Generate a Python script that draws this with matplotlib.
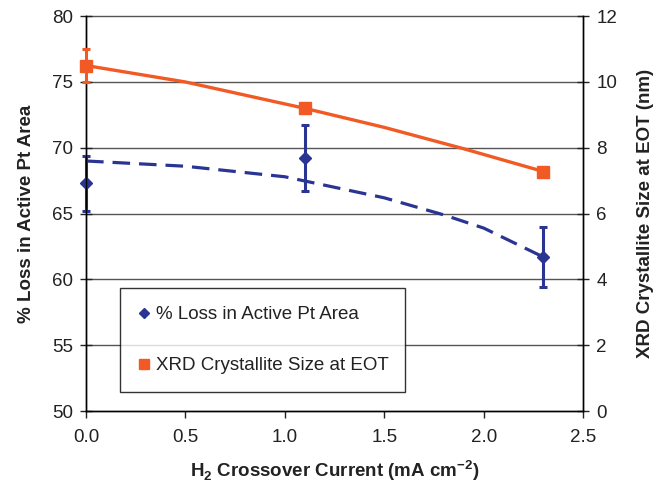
import matplotlib
matplotlib.use("Agg")
import matplotlib.pyplot as plt
from matplotlib.lines import Line2D

plt.rcParams["font.family"] = ["Liberation Sans", "DejaVu Sans"]
plt.rcParams["mathtext.fontset"] = "custom"
plt.rcParams["mathtext.rm"] = "Liberation Sans"
plt.rcParams["mathtext.bf"] = "Liberation Sans:bold"

# measured points
crossover = [0.0, 1.1, 2.3]
pt_loss = [67.3, 69.2, 61.7]
pt_loss_err = [2.1, 2.5, 2.3]
xrd_size = [10.5, 9.2, 7.28]
xrd_err = [0.5, 0.12, 0.12]

# trend lines
loss_trend_x = [0.0, 0.5, 1.0, 1.5, 1.8, 2.0, 2.3]
loss_trend_y = [69.0, 68.6, 67.8, 66.2, 64.9, 63.9, 61.7]
xrd_trend_x = [0.0, 0.5, 1.1, 1.5, 1.9, 2.3]
xrd_trend_y = [10.5, 10.0, 9.2, 8.62, 7.97, 7.28]

x_ticks = [0.0, 0.5, 1.0, 1.5, 2.0, 2.5]
left_ticks = [50, 55, 60, 65, 70, 75, 80]
right_ticks = [0, 2, 4, 6, 8, 10, 12]

BLUE = "#2a3593"
ORANGE = "#f15a24"
GRID = "#555555"
TXT = "#222222"

fig = plt.figure(figsize=(6.62, 4.90), dpi=100)
ax = fig.add_axes([0.130, 0.161, 0.751, 0.806])
ax2 = ax.twinx()

for y in left_ticks[1:]:
    ax.axhline(y, color=GRID, linewidth=1.0, zorder=0, clip_on=False)

eb1 = ax.errorbar(crossover, pt_loss, yerr=pt_loss_err, fmt="D", color=BLUE,
                  markersize=6.5, elinewidth=2.2, capsize=3, capthick=2.2, zorder=3)
ax.plot(loss_trend_x, loss_trend_y, color=BLUE, linewidth=2.3,
        dashes=(5.5, 2.8), zorder=2)

eb2 = ax2.errorbar(crossover, xrd_size, yerr=xrd_err, fmt="s", color=ORANGE,
                   markersize=8, elinewidth=2.2, capsize=3, capthick=2.2, zorder=3)
ax2.plot(xrd_trend_x, xrd_trend_y, color=ORANGE, linewidth=2.4, zorder=2)

for eb in (eb1, eb2):
    for child in eb.get_children():
        child.set_clip_on(False)

ax.set_xlim(0, 2.5)
ax.set_ylim(50, 80)
ax2.set_ylim(0, 12)
ax.set_xticks(x_ticks)
ax.set_xticklabels([f"{v:.1f}" for v in x_ticks])
ax.set_yticks(left_ticks)
ax2.set_yticks(right_ticks)

for a in (ax, ax2):
    a.spines["top"].set_visible(False)
    for s in ("left", "right", "bottom"):
        a.spines[s].set_color("black")
        a.spines[s].set_linewidth(1.0)

ax.tick_params(axis="y", direction="inout", length=9, width=1, labelsize=13.5,
               colors=TXT, pad=5)
ax2.tick_params(axis="y", direction="inout", length=9, width=1, labelsize=13.5,
                colors=TXT, pad=5)
ax.tick_params(axis="x", direction="out", length=5, width=1, labelsize=13.5,
               colors=TXT, pad=8)

ax.set_xlabel(r"H$_\mathbf{2}$ Crossover Current (mA cm$^\mathbf{-2}$)",
              fontsize=13.5, fontweight="bold", labelpad=9, color=TXT)
ax.set_ylabel("% Loss in Active Pt Area", fontsize=13.5, fontweight="bold",
              labelpad=12, color=TXT)
ax2.set_ylabel("XRD Crystallite Size at EOT (nm)", fontsize=13.5,
               fontweight="bold", labelpad=14, color=TXT)

handles = [
    Line2D([], [], marker="D", color=BLUE, linestyle="none", markersize=5),
    Line2D([], [], marker="s", color=ORANGE, linestyle="none", markersize=7),
]
labels = ["% Loss in Active Pt Area", "XRD Crystallite Size at EOT"]
leg = fig.legend(handles, labels, loc="lower left",
                 bbox_to_anchor=(0.181, 0.20, 0.431, 0.214), mode="expand",
                 fontsize=13.5, frameon=True, fancybox=False, borderpad=0.95,
                 labelspacing=1.8, handlelength=0.7, handletextpad=0.3,
                 borderaxespad=0)
leg.get_frame().set_edgecolor("black")
leg.get_frame().set_linewidth(1.0)
for t in leg.get_texts():
    t.set_color(TXT)

fig.savefig("out.png", dpi=100)
